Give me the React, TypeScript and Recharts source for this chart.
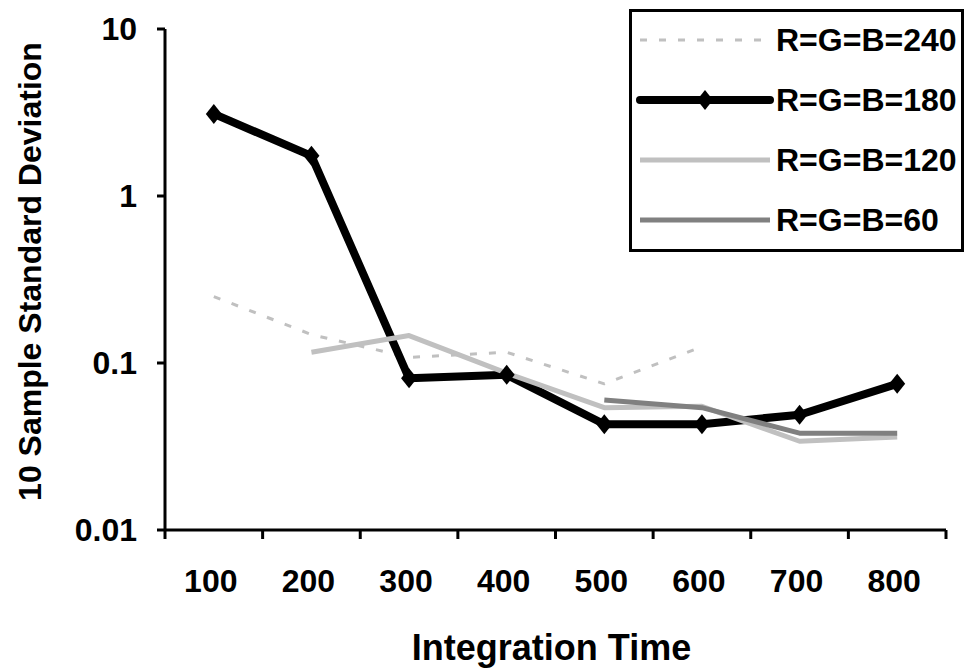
import { LineChart, Line, XAxis, YAxis, Legend } from "recharts"

const categories = [100, 200, 300, 400, 500, 600, 700, 800]
const categoryEdges = [50, 150, 250, 350, 450, 550, 650, 750, 850]
const yTicks = [0.01, 0.1, 1, 10]
const yTickLabels = ["0.01", "0.1", "1", "10"]

const rgb240 = [0.25, 0.148, 0.108, 0.116, 0.075, 0.125, null, null]
const rgb180 = [3.1, 1.74, 0.081, 0.085, 0.043, 0.043, 0.049, 0.075]
const rgb120 = [null, 0.116, 0.146, 0.087, 0.054, 0.055, 0.034, 0.036]
const rgb60 = [null, null, null, null, 0.06, 0.054, 0.038, 0.038]

const series = [
  { key: "s240", name: "R=G=B=240", color: "#C0C0C0", width: 3, dash: "7 12", marker: false },
  { key: "s180", name: "R=G=B=180", color: "#000000", width: 8, dash: undefined, marker: true },
  { key: "s120", name: "R=G=B=120", color: "#C0C0C0", width: 5, dash: undefined, marker: false },
  { key: "s60", name: "R=G=B=60", color: "#808080", width: 5, dash: undefined, marker: false },
]

const data = categories.map((x, i) => ({
  x,
  s240: rgb240[i],
  s180: rgb180[i],
  s120: rgb120[i],
  s60: rgb60[i],
}))

const font = "'Liberation Sans', Arial, sans-serif"

function diamond(cx: number, cy: number, key?: string) {
  return (
    <polygon
      key={key}
      points={`${cx},${cy - 10} ${cx + 8},${cy} ${cx},${cy + 10} ${cx - 8},${cy}`}
      fill="#000"
    />
  )
}

const DiamondDot = (props: any) => {
  const { cx, cy, index } = props
  if (cx == null || cy == null) return <g key={`d-${index}`} />
  return diamond(cx, cy, `d-${index}`)
}

const XTick = (props: any) => {
  const { x, y, payload } = props
  if (categories.includes(payload.value)) {
    return (
      <text x={x - 3} y={y} dy={62} textAnchor="middle" fontFamily={font} fontWeight="bold" fontSize={32} fill="#000">
        {payload.value}
      </text>
    )
  }
  return <line x1={x} x2={x} y1={y} y2={y + 9} stroke="#000" strokeWidth={3} />
}

const YTick = (props: any) => {
  const { x, y, payload } = props
  const i = yTicks.indexOf(payload.value)
  return (
    <text x={x} y={y} dy="0.35em" textAnchor="end" fontFamily={font} fontWeight="bold" fontSize={32} fill="#000">
      {i >= 0 ? yTickLabels[i] : payload.value}
    </text>
  )
}

function LegendBox() {
  return (
    <svg width={335} height={243} style={{ display: "block" }}>
      <rect x={1.5} y={1.5} width={332} height={240} fill="#fff" stroke="#000" strokeWidth={3} />
      {series.map((s, i) => {
        const ry = 31 + i * 60
        return (
          <g key={s.key}>
            <line
              x1={11}
              x2={141}
              y1={ry}
              y2={ry}
              stroke={s.color}
              strokeWidth={s.width}
              strokeDasharray={s.dash}
              strokeLinecap={s.marker ? "round" : "butt"}
            />
            {s.marker && diamond(76, ry)}
            <text x={147} y={ry} dy="0.35em" fontFamily={font} fontWeight="bold" fontSize={32} fill="#000">
              {s.name}
            </text>
          </g>
        )
      })}
    </svg>
  )
}

export default function App() {
  return (
    <div style={{ position: "absolute", left: 0, top: 0, background: "#fff" }}>
      <LineChart width={967} height={672} data={data} margin={{ top: 29, right: 21, bottom: 0, left: 0 }}>
        <XAxis
          type="number"
          dataKey="x"
          domain={[50, 850]}
          ticks={[...categoryEdges, ...categories].sort((a, b) => a - b)}
          interval={0}
          tick={<XTick />}
          tickLine={false}
          tickSize={0}
          tickMargin={0}
          axisLine={{ stroke: "#000", strokeWidth: 3 }}
          height={142}
          label={{
            content: (p: any) => {
              const vb = p.viewBox
              return (
                <text
                  x={vb.x + vb.width / 2 - 4}
                  y={vb.y + 130}
                  textAnchor="middle"
                  fontFamily={font}
                  fontWeight="bold"
                  fontSize={36}
                  fill="#000"
                >
                  Integration Time
                </text>
              )
            },
          }}
        />
        <YAxis
          type="number"
          scale="log"
          domain={[0.01, 10]}
          ticks={yTicks}
          interval={0}
          width={165}
          tick={<YTick />}
          tickSize={8}
          tickMargin={20}
          tickLine={{ stroke: "#000", strokeWidth: 3 }}
          axisLine={{ stroke: "#000", strokeWidth: 3 }}
          label={{
            content: (p: any) => {
              const vb = p.viewBox
              const cx = vb.x + 30
              const cy = vb.y + vb.height / 2 - 8
              return (
                <text
                  x={cx}
                  y={cy}
                  transform={`rotate(-90, ${cx}, ${cy})`}
                  textAnchor="middle"
                  dy="0.35em"
                  fontFamily={font}
                  fontWeight="bold"
                  fontSize={32}
                  fill="#000"
                >
                  10 Sample Standard Deviation
                </text>
              )
            },
          }}
        />
        <Legend
          layout="vertical"
          align="center"
          verticalAlign="middle"
          wrapperStyle={{ left: 629, top: 9, width: 335, height: 243 }}
          content={() => <LegendBox />}
        />
        {series.map((s) => (
          <Line
            key={s.key}
            type="linear"
            dataKey={s.key}
            name={s.name}
            stroke={s.color}
            strokeWidth={s.width}
            strokeDasharray={s.dash}
            strokeLinejoin="round"
            dot={s.marker ? <DiamondDot /> : false}
            activeDot={false}
            isAnimationActive={false}
          />
        ))}
      </LineChart>
    </div>
  )
}
